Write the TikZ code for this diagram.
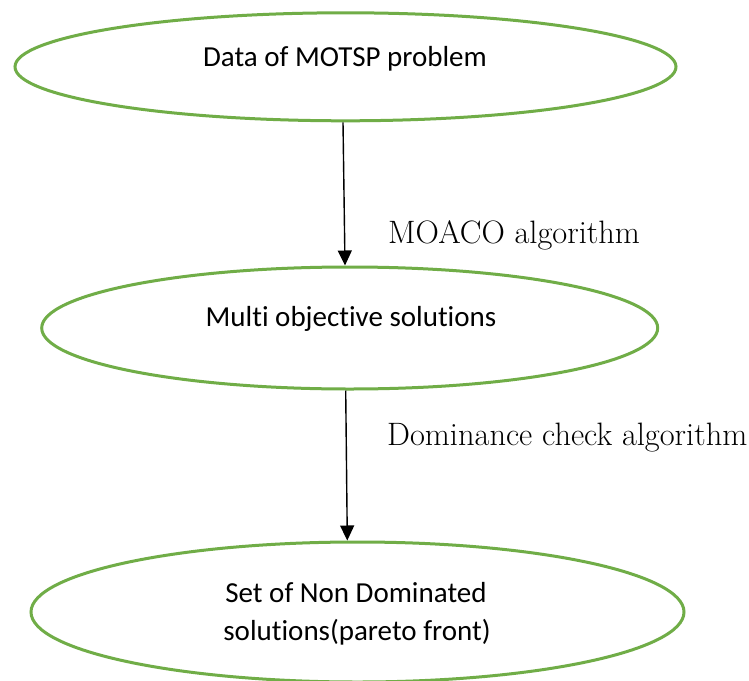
\documentclass[tikz,border=0pt]{standalone}
\usepackage{fontspec}
\newfontfamily\boxfont[Ligatures={NoCommon,NoContextual}]{Carlito}
\usetikzlibrary{shapes.geometric,arrows.meta}
\definecolor{leafgreen}{RGB}{112,173,71}
\tikzset{
  stage/.style={ellipse, draw=leafgreen, line width=3pt, inner sep=0pt},
  stagetext/.style={anchor=base, inner sep=0pt, font=\boxfont\fontsize{29}{35}\selectfont},
  steplabel/.style={anchor=base west, inner sep=0pt, font=\fontsize{32.4}{38}\selectfont},
  flow/.style={line width=1.4pt, -{Triangle[length=15pt,width=14pt]}}
}
\begin{document}
\begin{tikzpicture}[x=1pt,y=1pt]
  \clip (0,0) rectangle (749,-680);
  \fill[white] (0,0) rectangle (749,-680);

  % the three stages
  \node[stage, minimum width=661pt, minimum height=108pt] (data) at (345.5,-66.8) {};
  \node[stage, minimum width=616pt, minimum height=122pt] (multi) at (349.7,-328) {};
  \node[stage, minimum width=653pt, minimum height=140pt] (front) at (357.5,-612) {};

  \node[stagetext] (datatxt) at (345,-66.7) {Data of MOTSP problem};
  \node[stagetext] (multitxt) at (351,-326.7) {Multi objec\kern0pt tive solu\kern0pt tions};
  \node[stagetext] (fronttxt1) at (356,-602.3) {Set of Non Dominated};
  \node[stagetext] (fronttxt2) at (357,-640) {solu\kern0pt tions(pareto front)};

  % transitions between stages
  \draw[flow] ([xshift=-2.5pt]data.south) -- ([xshift=-4.7pt]multi.north);
  \draw[flow] ([xshift=-4pt]multi.south) -- ([xshift=-10.2pt]front.north);

  \node[steplabel] (moaco) at (388,-243) {MOACO algorithm};
  \node[steplabel] (domcheck) at (387,-445) {Dominance check algorithm};
\end{tikzpicture}
\end{document}
